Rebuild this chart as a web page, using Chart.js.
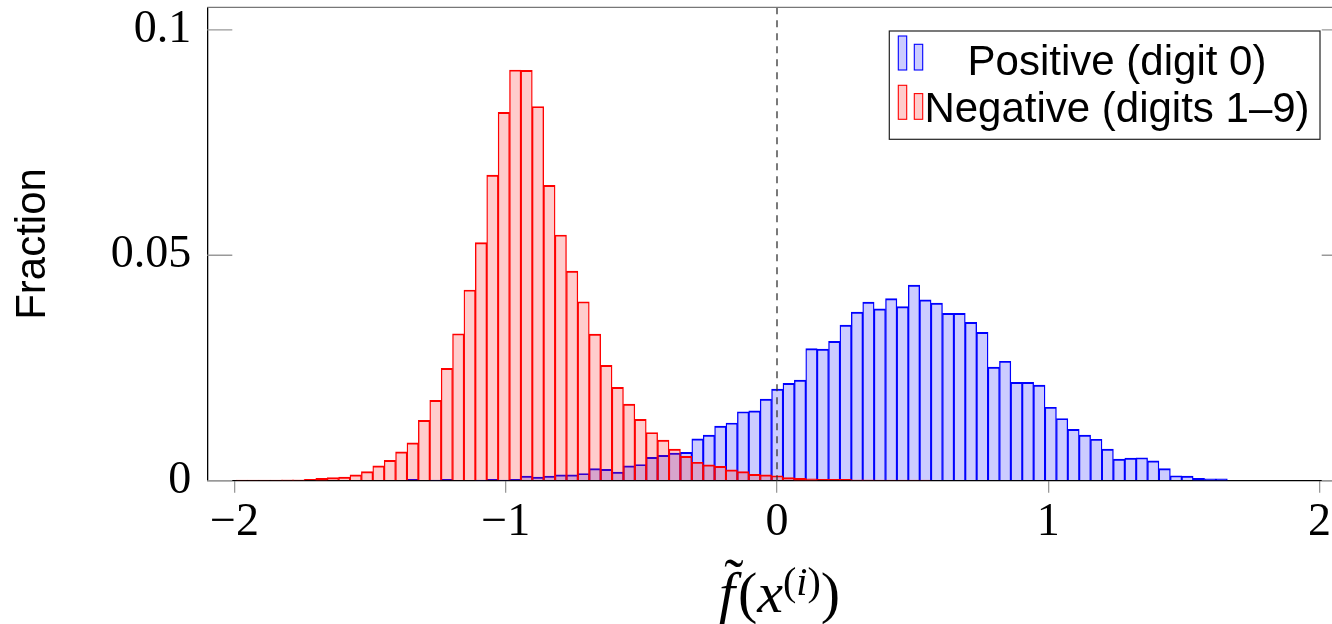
<!DOCTYPE html>
<html lang="en">
<head>
  <meta charset="UTF-8" />
  <title>Positive vs negative score histogram</title>
  <script src="https://cdn.jsdelivr.net/npm/chart.js"></script>
  <style>
    html, body { margin: 0; padding: 0; background: #fff; overflow: hidden; }
    #wrap { width: 1360px; height: 624px; }
  </style>
</head>
<body>
  <div id="wrap"><canvas id="histChart" width="1360" height="624"></canvas></div>

  <script>
    // histogram bins (shared by both series)
    const binLeft = -1.994;
    const binWidth = 0.042;

    // fraction per bin (88 bins, left to right)
    const negativeFrac = [
      0.0001, 0.0001, 0.0001, 0.0001, 0.0002, 0.0002,
      0.0003, 0.0005, 0.0007, 0.0008, 0.0013, 0.0020, 0.0033, 0.0045,
      0.0064, 0.0084, 0.0134, 0.0178, 0.0249, 0.0326, 0.0423, 0.0528,
      0.0678, 0.0817, 0.0911, 0.0910, 0.0830, 0.0655, 0.0545, 0.0465, 0.0397, 0.0325,
      0.0256, 0.0207, 0.0170, 0.0136, 0.0107, 0.0090, 0.0070, 0.0054, 0.0041, 0.0035,
      0.0032, 0.0024, 0.0020, 0.0014, 0.0013, 0.0011, 0.0007, 0.0005, 0.0004, 0.0003,
      0.0003, 0.0003, 0.0002, 0.0002, 0.0001, 0.0001, 0.0001, 0.0001, 0.0001, 0,
      0, 0, 0, 0, 0, 0, 0, 0, 0, 0, 0, 0, 0,
      0, 0, 0, 0, 0, 0, 0, 0, 0, 0, 0, 0, 0
    ];
    const positiveFrac = [
      0, 0, 0, 0, 0, 0, 0, 0, 0, 0, 0, 0, 0, 0, 0,
      0.0003, 0, 0.0001, 0.0003, 0, 0, 0.0001,
      0.0003, 0.0001, 0.0003, 0.0010, 0.0008, 0.0010, 0.0013, 0.0013, 0.0016, 0.0027,
      0.0025, 0.0019, 0.0033, 0.0036, 0.0052, 0.0056, 0.0061, 0.0063, 0.0093, 0.0101,
      0.0121, 0.0128, 0.0153, 0.0155, 0.0181, 0.0203, 0.0216, 0.0223, 0.0293, 0.0292,
      0.0309, 0.0345, 0.0374, 0.0396, 0.0381, 0.0404, 0.0386, 0.0434, 0.0401, 0.0394,
      0.0371, 0.0371, 0.0351, 0.0329, 0.0252, 0.0265, 0.0218, 0.0218, 0.0212, 0.0163,
      0.0138, 0.0114, 0.0101, 0.0092, 0.0070, 0.0048, 0.0050, 0.0051, 0.0044, 0.0027,
      0.0011, 0.0010, 0.0005, 0.0004, 0.0004, 0
    ];

    const xTicks = [-2, -1, 0, 1, 2];
    const yTicks = [0, 0.05, 0.1];
    const yTickLabels = ['0', '0.05', '0.1'];
    const seriesNames = ['Positive (digit 0)', 'Negative (digits 1\u20139)'];
    const yTitle = 'Fraction';

    const binCenters = negativeFrac.map((_, i) => binLeft + binWidth * (i + 0.5));
    const toPoints = vals => vals.map((v, i) => ({ x: binCenters[i], y: v }));

    const BLUE = 'rgb(0,0,255)', BLUE_FILL = 'rgba(0,0,255,0.2)';
    const RED = 'rgb(255,0,0)', RED_FILL = 'rgba(255,0,0,0.2)';
    const barBorder = { top: 1.3, left: 0.7, right: 0.7, bottom: 0 };

    // dashed zero line, inward y ticks, top frame, legend and x title
    const extras = {
      id: 'extras',
      afterDatasetsDraw(chart) {
        const { ctx, chartArea: a, scales: { x, y } } = chart;
        ctx.save();
        const x0 = x.getPixelForValue(0);
        ctx.strokeStyle = '#333';
        ctx.lineWidth = 1.3;
        ctx.setLineDash([7, 6]);
        ctx.beginPath();
        ctx.moveTo(x0, a.top);
        ctx.lineTo(x0, a.bottom);
        ctx.stroke();
        ctx.setLineDash([]);

        ctx.strokeStyle = '#999';
        yTicks.forEach(v => {
          const py = y.getPixelForValue(v);
          ctx.beginPath();
          ctx.moveTo(a.left, py); ctx.lineTo(a.left + 25, py);
          ctx.moveTo(a.right - 25, py); ctx.lineTo(a.right, py);
          ctx.stroke();
        });

        ctx.strokeStyle = '#777';
        ctx.beginPath();
        ctx.moveTo(a.left, a.top); ctx.lineTo(a.right, a.top); ctx.lineTo(a.right, a.bottom);
        ctx.stroke();
        ctx.restore();
      },
      afterDraw(chart) {
        const { ctx, chartArea: a, scales: { x } } = chart;
        ctx.save();

        // legend box
        const bx = a.right - 457.4, by = a.top + 23.7, bw = 430.7, bh = 108.3;
        ctx.fillStyle = '#fff';
        ctx.fillRect(bx, by, bw, bh);
        ctx.strokeStyle = '#222';
        ctx.lineWidth = 1.2;
        ctx.strokeRect(bx, by, bw, bh);

        const icon = (top, fill, line) => {
          ctx.fillStyle = fill;
          ctx.strokeStyle = line;
          ctx.lineWidth = 1.1;
          [[bx + 9, top, 8.4, 34], [bx + 25, top + 8.3, 8.4, 25.7]].forEach(r => {
            ctx.fillRect(r[0], r[1], r[2], r[3]);
            ctx.strokeRect(r[0], r[1], r[2], r[3]);
          });
        };
        icon(by + 5, BLUE_FILL, BLUE);
        icon(by + 54.3, RED_FILL, RED);

        ctx.fillStyle = '#000';
        ctx.font = '42px "Liberation Sans", Arial, sans-serif';
        ctx.textAlign = 'center';
        ctx.textBaseline = 'alphabetic';
        ctx.fillText(seriesNames[0], bx + 227.7, by + 44);
        ctx.fillText(seriesNames[1], bx + 227.7, by + 90.7);

        // x axis title: f~(x^(i))
        const serif = '"Liberation Serif", "Times New Roman", serif';
        const parts = [
          { t: 'f', f: 'italic 58px ' + serif, dy: 0 },
          { t: '(', f: '58px ' + serif, dy: 0 },
          { t: 'x', f: 'italic 58px ' + serif, dy: 0 },
          { t: '(', f: '40px ' + serif, dy: -17 },
          { t: 'i', f: 'italic 40px ' + serif, dy: -17 },
          { t: ')', f: '40px ' + serif, dy: -17 },
          { t: ')', f: '58px ' + serif, dy: 0 }
        ];
        let total = 0;
        parts.forEach(p => { ctx.font = p.f; p.w = ctx.measureText(p.t).width; total += p.w; });
        const base = 611.7;
        let cx = x.getPixelForValue(0) + 1 - total / 2;
        ctx.textAlign = 'left';
        parts.forEach((p, i) => {
          ctx.font = p.f;
          ctx.fillText(p.t, cx, base + p.dy);
          if (i === 0) {
            ctx.font = '58px ' + serif;
            ctx.textAlign = 'center';
            ctx.fillText('\u02DC', cx + 15, base - 14);
            ctx.textAlign = 'left';
          }
          cx += p.w + (i === 0 ? 3 : 0);
        });
        ctx.restore();
      }
    };

    new Chart(document.getElementById('histChart'), {
      type: 'bar',
      data: {
        datasets: [
          {
            label: seriesNames[0],
            data: toPoints(positiveFrac),
            backgroundColor: BLUE_FILL,
            borderColor: BLUE,
            borderWidth: barBorder,
            borderSkipped: false,
            order: 2
          },
          {
            label: seriesNames[1],
            data: toPoints(negativeFrac),
            backgroundColor: RED_FILL,
            borderColor: RED,
            borderWidth: barBorder,
            borderSkipped: false,
            order: 1
          }
        ]
      },
      options: {
        responsive: false,
        animation: false,
        devicePixelRatio: 1,
        layout: { padding: { top: 7.3, right: 13.3, left: 0, bottom: 0 } },
        datasets: { bar: { barPercentage: 1, categoryPercentage: 1, grouped: false } },
        plugins: { legend: { display: false }, tooltip: { enabled: false } },
        scales: {
          x: {
            type: 'linear',
            min: -2.1,
            max: 2.1,
            offset: false,
            afterBuildTicks: s => { s.ticks = xTicks.map(v => ({ value: v })); },
            afterFit: s => { s.height = 143.3; s.paddingLeft = 0; s.paddingRight = 0; },
            grid: { drawOnChartArea: false, tickLength: 12, tickColor: '#999', lineWidth: 1.3, offset: false },
            border: { color: '#000', width: 1.3 },
            ticks: {
              padding: 3,
              color: '#000',
              font: { family: '"Liberation Serif", "Times New Roman", serif', size: 46 },
              callback: v => String(v).replace('-', '\u2212')
            }
          },
          y: {
            min: 0,
            max: 0.105,
            afterBuildTicks: s => { s.ticks = yTicks.map(v => ({ value: v })); },
            afterFit: s => { s.width = 207.3; s.paddingTop = 0; s.paddingBottom = 0; },
            grid: { drawOnChartArea: false, drawTicks: false },
            border: { color: '#000', width: 1.3 },
            ticks: {
              padding: 16,
              color: '#000',
              font: { family: '"Liberation Serif", "Times New Roman", serif', size: 46 },
              callback: v => yTickLabels[yTicks.indexOf(v)]
            },
            title: {
              display: true,
              text: yTitle,
              color: '#000',
              padding: { top: 12 },
              font: { family: '"Liberation Sans", Arial, sans-serif', size: 42, lineHeight: 1 }
            }
          }
        }
      },
      plugins: [extras]
    });
  </script>
</body>
</html>
